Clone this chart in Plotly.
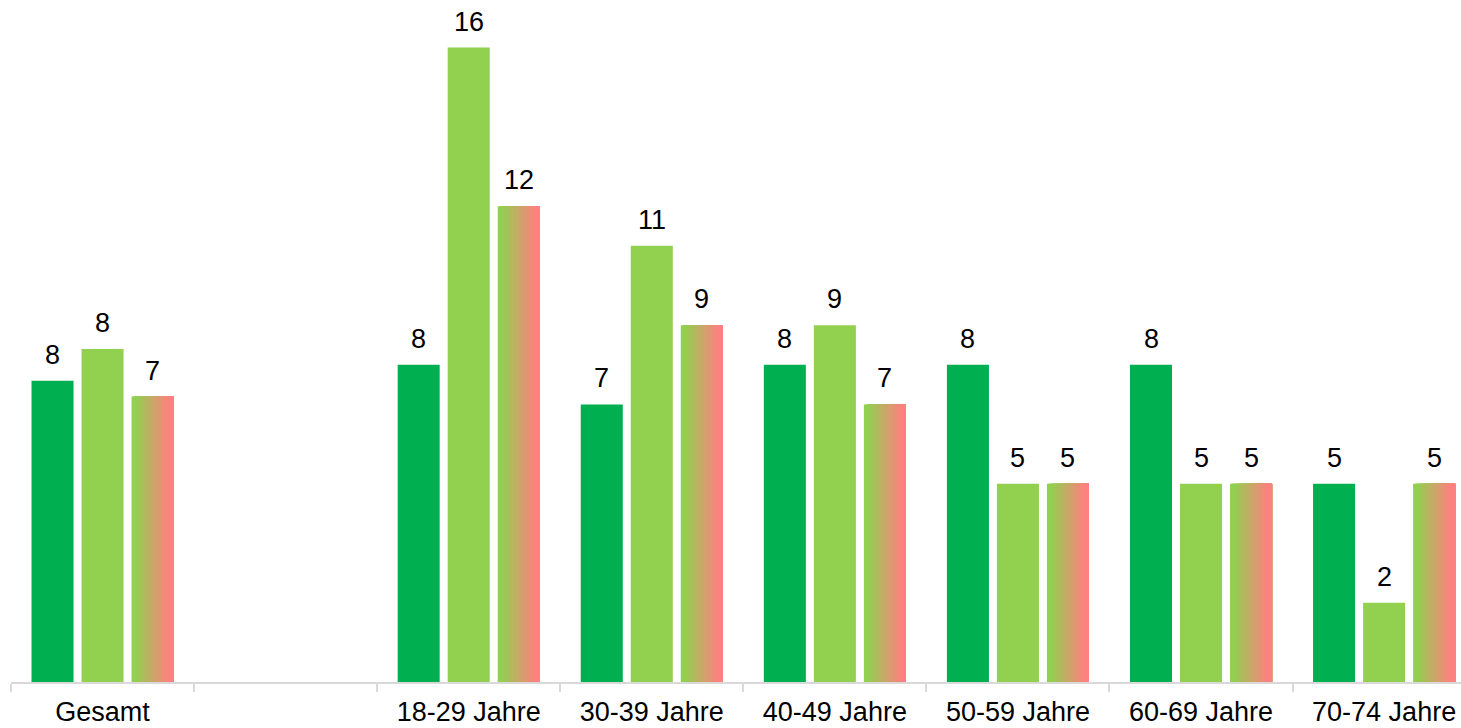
import plotly.graph_objects as go

categories = ["Gesamt", " ", "18-29 Jahre", "30-39 Jahre", "40-49 Jahre",
              "50-59 Jahre", "60-69 Jahre", "70-74 Jahre"]
series_a = [7.6, None, 8.0, 7.0, 8.0, 8.0, 8.0, 5.0]
series_b = [8.4, None, 16.0, 11.0, 9.0, 5.0, 5.0, 2.0]
series_c = [7.2, None, 12.0, 9.0, 7.0, 5.0, 5.0, 5.0]

color_a = "#00B050"
color_b = "#92D050"
grad_start = (146, 208, 80)
grad_end = (255, 128, 128)

slot = 50 / 183.0
bw = 42 / 183.0
offsets = [-slot - bw / 2, -bw / 2, slot - bw / 2]

fig = go.Figure()

fig.add_trace(go.Bar(x=categories, y=series_a, width=bw, offset=offsets[0],
                     marker=dict(color=color_a, line=dict(width=0)),
                     hoverinfo="skip", showlegend=False))
fig.add_trace(go.Bar(x=categories, y=series_b, width=bw, offset=offsets[1],
                     marker=dict(color=color_b, line=dict(width=0)),
                     hoverinfo="skip", showlegend=False))

# gradient bars built from overlapping slices, drawn left to right
N = 30
for k in range(N):
    t = (k / (N - 1) - 0.08) / 0.84
    t = max(0.0, min(1.0, t))
    r = round(grad_start[0] + (grad_end[0] - grad_start[0]) * t)
    g = round(grad_start[1] + (grad_end[1] - grad_start[1]) * t)
    b = round(grad_start[2] + (grad_end[2] - grad_start[2]) * t)
    start = offsets[2] + bw * k / N
    fig.add_trace(go.Bar(x=categories, y=series_c, width=bw - bw * k / N,
                         offset=start,
                         marker=dict(color=f"rgb({r},{g},{b})", line=dict(width=0)),
                         hoverinfo="skip", showlegend=False))

annotations = []
for j, series in enumerate([series_a, series_b, series_c]):
    for i, v in enumerate(series):
        if v is None:
            continue
        annotations.append(dict(
            x=i + offsets[j] + bw / 2, y=v, xref="x", yref="y",
            text=f"{v:.0f}", showarrow=False, yanchor="bottom", yshift=9,
            font=dict(size=27, color="#000000", family="Liberation Sans, Arial, sans-serif")))

fig.update_layout(
    width=1461, height=728,
    margin=dict(l=11, r=0, t=0, b=46, autoexpand=False),
    barmode="overlay",
    plot_bgcolor="white", paper_bgcolor="white",
    font=dict(family="Liberation Sans, Arial, sans-serif", size=27, color="#000000"),
    annotations=annotations,
    hovermode=False,
    xaxis=dict(type="category", categoryorder="array", categoryarray=categories,
               range=[-0.5, 7.42], tickson="boundaries", ticks="outside",
               ticklen=8, tickcolor="#D9D9D9", tickwidth=1.5,
               showline=True, linecolor="#D9D9D9", linewidth=1.5,
               showgrid=False, zeroline=False, ticklabelstandoff=5,
               tickfont=dict(size=27, color="#000000")),
    yaxis=dict(range=[0, 17.2], visible=False, showgrid=False, zeroline=False),
)

fig.write_html("out.html", config={"displayModeBar": False},
               post_script="document.body.style.margin='0';document.body.style.overflow='hidden';")
